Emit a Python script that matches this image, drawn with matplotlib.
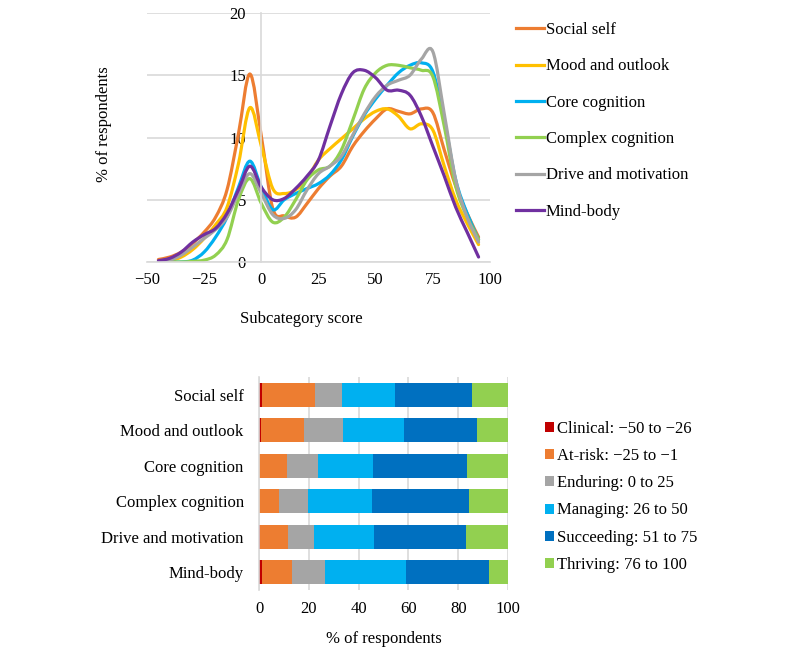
import numpy as np
import matplotlib
matplotlib.use('Agg')
import matplotlib.pyplot as plt
from matplotlib.path import Path
from matplotlib.patches import PathPatch
from matplotlib.lines import Line2D

plt.rcParams['font.family'] = ['Liberation Serif', 'DejaVu Serif']
plt.rcParams['font.size'] = 11.5
plt.rcParams['axes.unicode_minus'] = True

# ---- data: distribution of subcategory scores (% of respondents) ----
scores = list(range(-45, 100, 5))
social_self = [0.2, 0.4, 0.8, 1.5, 2.4, 3.6, 5.8, 10.3, 15.1, 10.1, 4.3, 3.7, 3.6, 4.7, 5.9,
               6.9, 7.7, 9.3, 10.5, 11.5, 12.3, 12.1, 11.9, 12.3, 12.0, 9.0, 6.1, 3.9, 2.0]
mood_outlook = [0.0, 0.1, 0.4, 1.0, 1.9, 3.0, 4.4, 7.9, 12.4, 9.3, 5.9, 5.5, 5.8, 6.7, 8.2,
                9.1, 9.9, 10.7, 11.5, 12.1, 12.3, 11.7, 10.7, 11.1, 10.6, 7.7, 5.0, 3.1, 1.4]
core_cognition = [0.0, 0.0, 0.0, 0.15, 0.8, 2.0, 3.6, 6.0, 8.1, 6.0, 4.2, 5.0, 5.5, 5.9, 6.3,
                  7.0, 8.2, 10.1, 11.8, 13.1, 14.2, 15.2, 15.8, 16.0, 15.3, 11.4, 6.6, 3.9, 1.8]
complex_cognition = [0.0, 0.0, 0.0, 0.05, 0.15, 0.55, 1.8, 5.0, 6.7, 4.7, 3.2, 3.6, 5.0, 6.6, 7.4,
                     7.7, 9.0, 11.4, 13.9, 15.2, 15.8, 15.8, 15.6, 15.4, 14.9, 10.9, 6.1, 3.6, 1.8]
drive_motivation = [0.0, 0.15, 0.55, 1.2, 1.9, 2.6, 3.6, 5.5, 7.1, 5.5, 3.8, 3.5, 4.2, 5.8, 7.1,
                    7.7, 8.5, 10.2, 11.9, 13.3, 14.2, 14.6, 15.0, 16.3, 16.9, 11.9, 6.6, 3.6, 1.6]
mind_body = [0.1, 0.3, 0.8, 1.6, 2.2, 2.7, 3.9, 5.8, 7.7, 6.0, 5.0, 5.1, 5.9, 6.9, 8.2,
             10.9, 13.5, 15.2, 15.4, 14.8, 13.8, 13.8, 13.4, 11.7, 9.3, 6.9, 4.4, 2.4, 0.4]

subcategories = ['Social self', 'Mood and outlook', 'Core cognition',
                 'Complex cognition', 'Drive and motivation', 'Mind-body']
line_colors = ['#ED7D31', '#FFC000', '#00B0F0', '#92D050', '#A5A5A5', '#7030A0']

# ---- data: stacked bars (% of respondents per category) ----
bands = ['Clinical: \u221250 to \u221226', 'At-risk: \u221225 to \u22121', 'Enduring: 0 to 25',
         'Managing: 26 to 50', 'Succeeding: 51 to 75', 'Thriving: 76 to 100']
band_colors = ['#C00000', '#ED7D31', '#A5A5A5', '#00B0F0', '#0070C0', '#92D050']
clinical = [1.1, 0.8, 0.0, 0.0, 0.3, 1.2]
at_risk = [21.2, 17.1, 11.4, 8.2, 11.3, 11.9]
enduring = [11.0, 15.9, 12.3, 11.3, 10.3, 13.6]
managing = [21.4, 24.6, 22.2, 25.8, 24.1, 32.3]
succeeding = [30.9, 29.3, 37.8, 39.2, 37.0, 33.2]
thriving = [14.4, 12.3, 16.3, 15.5, 17.0, 7.8]

GRID = '#D9D9D9'


def smooth_path(x, y):
    # excel-like smoothed line: cubic bezier through every data point
    p = np.column_stack([x, y]).astype(float)
    p_ext = np.vstack([p[0], p, p[-1]])
    verts = [p[0]]
    codes = [Path.MOVETO]
    for i in range(len(p) - 1):
        a, b, c, d = p_ext[i], p_ext[i + 1], p_ext[i + 2], p_ext[i + 3]
        verts += [b + (c - a) / 6.0, c - (d - b) / 6.0, c]
        codes += [Path.CURVE4] * 3
    return Path(verts, codes)


fig = plt.figure(figsize=(8, 6.54), dpi=100)

# ================= top: score distribution =================
ax1 = fig.add_axes([0.18375, 0.5994, 0.42875, 0.3807])
series = [social_self, mood_outlook, core_cognition, complex_cognition, drive_motivation, mind_body]
handles = []
for name, vals, col in zip(subcategories, series, line_colors):
    patch = PathPatch(smooth_path(scores, vals), facecolor='none', edgecolor=col,
                      lw=2.3, capstyle='round', joinstyle='round')
    ax1.add_patch(patch)
    handles.append(Line2D([], [], color=col, lw=2.3, label=name))

ax1.set_xlim(-50, 100)
ax1.set_ylim(0, 20)
ax1.set_xticks([-50, -25, 0, 25, 50, 75, 100])
ax1.set_yticks([0, 5, 10, 15, 20])
ax1.yaxis.grid(True, color=GRID, lw=1.2)
ax1.set_axisbelow(True)
for s in ['top', 'right']:
    ax1.spines[s].set_visible(False)
ax1.spines['left'].set_position(('data', 0))
ax1.spines['left'].set_color(GRID)
ax1.spines['bottom'].set_color(GRID)
ax1.spines['left'].set_linewidth(1.2)
ax1.spines['bottom'].set_linewidth(1.2)
ax1.tick_params(length=0, labelsize=12)
ax1.tick_params(axis='y', pad=11)
ax1.tick_params(axis='x', pad=7)
ax1.set_ylabel('% of respondents', fontsize=12)
ax1.yaxis.set_label_coords(-0.102, 0.554)
ax1.set_xlabel('Subcategory score', fontsize=12)
ax1.xaxis.set_label_coords(0.449, -0.197)

leg1 = ax1.legend(handles=handles, loc='upper left', bbox_to_anchor=(1.031, 1.024),
                  frameon=False, handlelength=1.7, handletextpad=0.1,
                  labelspacing=1.22, fontsize=12)

# ================= bottom: stacked bars =================
ax2 = fig.add_axes([0.32375, 0.0979, 0.31125, 0.3257])
ypos = np.arange(len(subcategories))
left = np.zeros(len(subcategories))
for name, vals, col in zip(bands, [clinical, at_risk, enduring, managing, succeeding, thriving],
                           band_colors):
    ax2.barh(ypos, vals, left=left, height=0.67, color=col, label=name)
    left += np.array(vals)

ax2.set_xlim(0, 100)
ax2.set_ylim(len(subcategories) - 0.5, -0.5)
ax2.set_yticks(ypos)
ax2.set_yticklabels(subcategories)
ax2.set_xticks([0, 20, 40, 60, 80, 100])
ax2.xaxis.grid(True, color=GRID, lw=1.2)
ax2.set_axisbelow(True)
for s in ['top', 'right', 'bottom']:
    ax2.spines[s].set_visible(False)
ax2.spines['left'].set_color(GRID)
ax2.spines['left'].set_linewidth(1.2)
ax2.tick_params(length=0, labelsize=12)
ax2.tick_params(axis='y', pad=11)
ax2.tick_params(axis='x', pad=8)
ax2.set_xlabel('% of respondents', fontsize=12, labelpad=10)

ax2.legend(loc='upper left', bbox_to_anchor=(1.088, 0.864), frameon=False,
           handlelength=0.55, handleheight=0.55, handletextpad=0.2,
           labelspacing=0.67, fontsize=12)

fig.savefig('out.png', dpi=100)
